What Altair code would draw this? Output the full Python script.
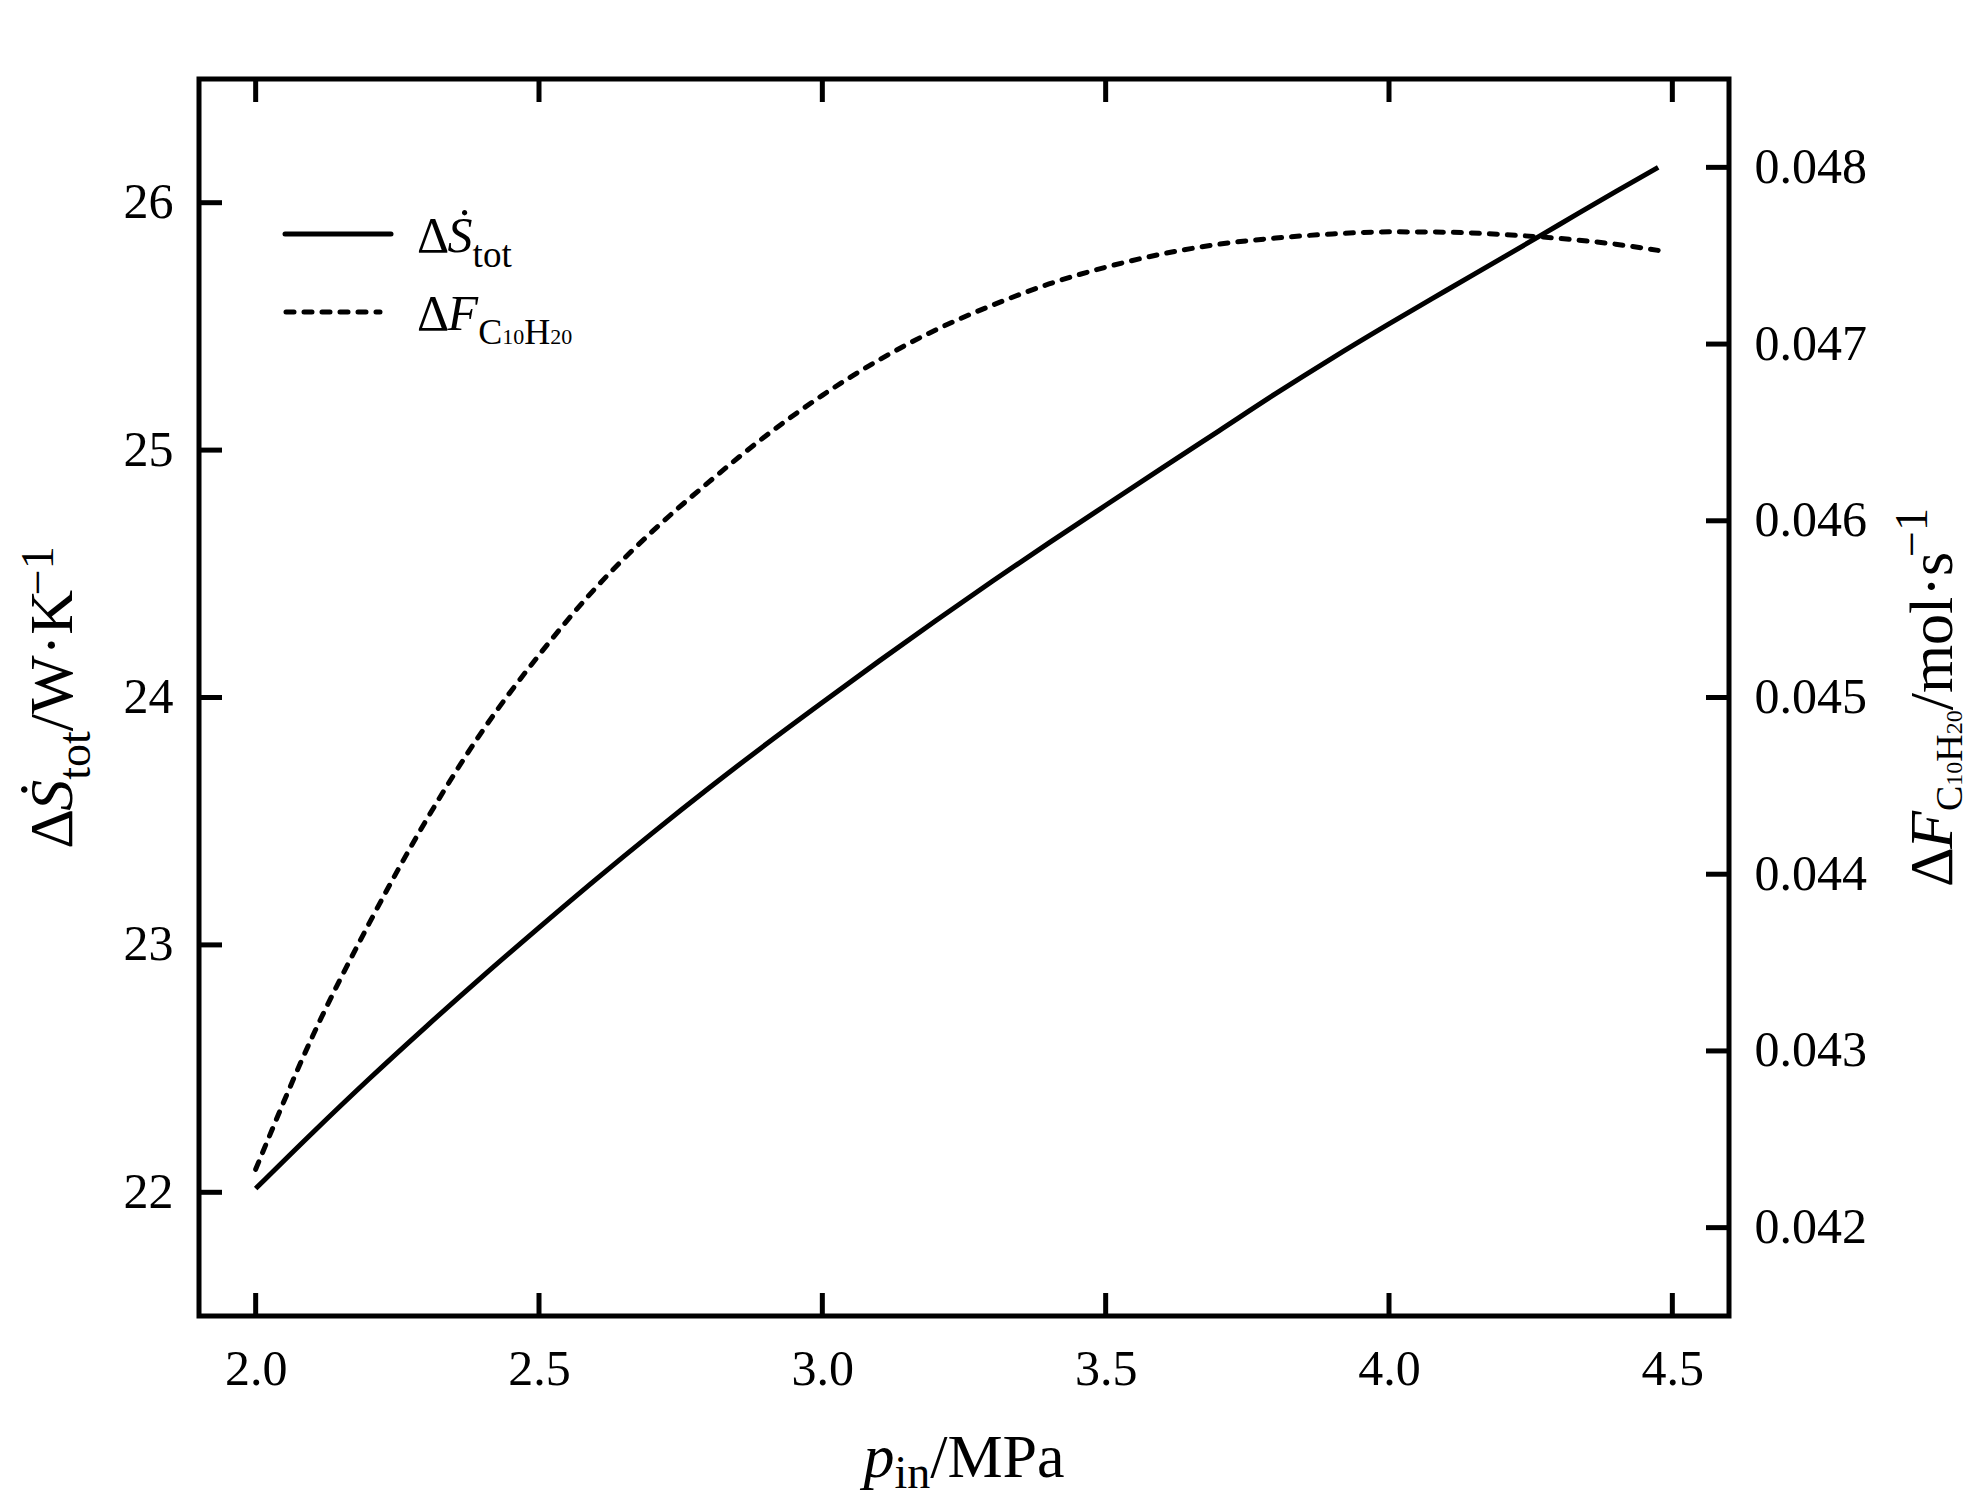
import altair as alt
import pandas as pd

# ---------------- data ----------------
p_in = [2.0, 2.1, 2.2, 2.3, 2.4, 2.5, 2.6, 2.7, 2.8, 2.9, 3.0, 3.1, 3.2,
        3.3, 3.4, 3.5, 3.6, 3.7, 3.8, 3.9, 4.0, 4.1, 4.2, 4.3, 4.4, 4.475]
s_tot = [22.015, 22.24, 22.458, 22.668, 22.872, 23.07, 23.264, 23.452, 23.634,
         23.81, 23.98, 24.147, 24.31, 24.47, 24.625, 24.777, 24.928, 25.078,
         25.228, 25.372, 25.51, 25.644, 25.777, 25.911, 26.045, 26.143]
f_c10h20 = [0.04233, 0.04308, 0.04372, 0.04430, 0.04481, 0.04524, 0.04562,
            0.04594, 0.04622, 0.04648, 0.04671, 0.04691, 0.04708, 0.04722,
            0.04734, 0.047435, 0.04751, 0.047565, 0.04760, 0.047623, 0.047635,
            0.047633, 0.04762, 0.047598, 0.047565, 0.04753]

x_ticks = [2.0, 2.5, 3.0, 3.5, 4.0, 4.5]
s_ticks = [22, 23, 24, 25, 26]
f_ticks = [0.042, 0.043, 0.044, 0.045, 0.046, 0.047, 0.048]

# ---------------- layout / style ----------------
W, H = 1530, 1237
FONT = "Liberation Serif"
TICK_LEN = 23
LW = 5

df = pd.DataFrame({"p": p_in, "S": s_tot, "F": f_c10h20})
xt = pd.DataFrame({"p": x_ticks})
st = pd.DataFrame({"S": s_ticks})
ft = pd.DataFrame({"F": f_ticks})

xs = alt.Scale(domain=[1.9, 4.6], nice=False, zero=False)
ysL = alt.Scale(domain=[21.5, 26.5], nice=False, zero=False)
ysR = alt.Scale(domain=[0.0415, 0.0485], nice=False, zero=False)

lab = dict(ticks=False, domain=False, grid=False, labelFont=FONT, labelFontSize=50,
           labelColor="black", labelOverlap=False, labelFlush=False, title=None)
ax_x = alt.Axis(values=x_ticks, format=".1f", labelPadding=28, **lab)
ax_l = alt.Axis(values=s_ticks, format="d", labelPadding=26, **lab)
ax_r = alt.Axis(values=f_ticks, format=".3f", orient="right", labelPadding=25, **lab)

# approximate Times/Liberation Serif advance widths (per 1000 em)
W_REG = {"/": 278, ".": 250, "A": 722, "C": 667, "F": 556, "H": 722, "K": 722,
         "M": 889, "P": 556, "S": 556, "W": 944, "a": 444, "i": 278, "l": 278,
         "m": 778, "n": 500, "o": 500, "s": 389, "t": 278, "\u00b7": 250,
         "\u2212": 564, "\u0394": 612}
W_IT = {"p": 500, "S": 500, "F": 611, "\u1e60": 500}


def seg_width(text, size, italic):
    tbl = W_IT if italic else W_REG
    return sum(tbl.get(ch, 500) for ch in text) / 1000.0 * size


def rich(segments, x, y, angle=0, anchor="center"):
    total = sum(seg_width(t, s, it) for t, s, it, _ in segments)
    off = -total / 2.0 if anchor == "center" else 0.0
    out = []
    for t, s, it, dy in segments:
        m = alt.Chart(alt.Data(values=[{"t": t}])).mark_text(
            align="left", baseline="alphabetic", font=FONT, fontSize=s,
            fontStyle="italic" if it else "normal", angle=angle,
            dx=off, dy=dy, color="black"
        ).encode(x=alt.value(x), y=alt.value(y), text="t:N")
        out.append(m)
        off += seg_width(t, s, it)
    return out


# ---------------- data lines ----------------
s_line = alt.Chart(df).mark_line(color="black", strokeWidth=LW,
                                 interpolate="monotone").encode(
    x=alt.X("p:Q", scale=xs, axis=ax_x),
    y=alt.Y("S:Q", scale=ysL, axis=ax_l),
)

f_line = alt.Chart(df).mark_line(color="black", strokeWidth=LW, interpolate="monotone",
                                 strokeDash=[8, 10], strokeCap="round").encode(
    x=alt.X("p:Q", scale=xs, axis=ax_x),
    y=alt.Y("F:Q", scale=ysR, axis=ax_r),
)

# ---------------- inward ticks ----------------
rule = dict(color="black", strokeWidth=LW)
x_bot = alt.Chart(xt).mark_rule(**rule).encode(
    x=alt.X("p:Q", scale=xs, axis=ax_x), y=alt.value(H), y2=alt.value(H - TICK_LEN))
x_top = alt.Chart(xt).mark_rule(**rule).encode(
    x=alt.X("p:Q", scale=xs, axis=ax_x), y=alt.value(0), y2=alt.value(TICK_LEN))
y_left = alt.Chart(st).mark_rule(**rule).encode(
    y=alt.Y("S:Q", scale=ysL, axis=ax_l), x=alt.value(0), x2=alt.value(TICK_LEN))
y_right = alt.Chart(ft).mark_rule(**rule).encode(
    y=alt.Y("F:Q", scale=ysR, axis=ax_r), x=alt.value(W - TICK_LEN), x2=alt.value(W))

# ---------------- titles ----------------
TF, TS = 62, 46
x_title = rich([("p", TF, True, 0), ("in", TS, False, 11), ("/MPa", TF, False, 0)],
               W / 2.0, 1398)
yl_title = rich([("\u0394", TF, False, 0), ("\u1e60", TF, True, 0), ("tot", TS, False, 18),
                 ("/W\u00b7K", TF, False, 0), ("\u22121", TS, False, -19)],
                -127, H / 2.0, angle=270)
yr_title = rich([("\u0394", TF, False, 0), ("F", TF, True, 0), ("C", 38, False, 10),
                 ("10", 24, False, 10), ("H", 38, False, 10), ("20", 24, False, 10),
                 ("/mol\u00b7s", TF, False, 0), ("\u22121", TS, False, -25)],
                W + 223, H / 2.0, angle=270)

# ---------------- legend ----------------
one = alt.Data(values=[{"k": 1}])
leg_solid = alt.Chart(one).mark_rule(color="black", strokeWidth=LW, strokeCap="round").encode(
    x=alt.value(86), x2=alt.value(192), y=alt.value(155))
leg_dash = alt.Chart(one).mark_rule(color="black", strokeWidth=LW, strokeDash=[8, 10],
                                    strokeCap="round").encode(
    x=alt.value(87), x2=alt.value(181), y=alt.value(233))
leg_t1 = rich([("\u0394", 50, False, 0), ("\u1e60", 50, True, 0), ("tot", 37, False, 15)],
              218, 173, anchor="left")
leg_t2 = rich([("\u0394", 50, False, 0), ("F", 50, True, 0), ("C", 36, False, 14),
               ("10", 22, False, 14), ("H", 36, False, 14), ("20", 22, False, 14)],
              218, 251, anchor="left")

left = alt.layer(s_line, y_left, x_bot, x_top, leg_solid, leg_dash,
                 *x_title, *yl_title, *yr_title, *leg_t1, *leg_t2)
right = alt.layer(f_line, y_right)

chart = alt.layer(left, right).resolve_scale(y="independent").properties(
    width=W, height=H,
    autosize=alt.AutoSizeParams(type="none"),
    padding={"left": 191, "top": 71, "right": 240, "bottom": 186},
    background="white",
).configure_view(stroke="black", strokeWidth=LW)

chart.save("out.html", embed_options={"renderer": "svg", "actions": False})
